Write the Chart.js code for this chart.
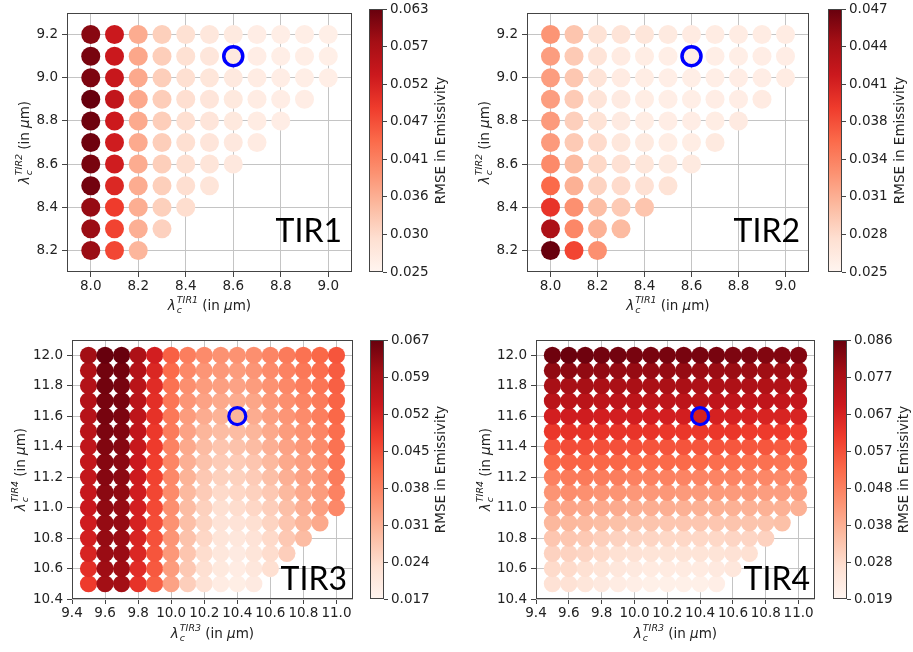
<!DOCTYPE html>
<html>
<head>
    <title>RMSE in Emissivity</title>
    <script src="https://cdn.jsdelivr.net/npm/chart.js"></script>
    <style>
        body { margin: 0; background: #fff; }
        #wrap { position: relative; width: 913px; height: 652px; }
        #wrap canvas { position: absolute; left: 0; top: 0; }
    </style>
</head>
<body>
<div id="wrap">
    <canvas id="p1" width="913" height="652"></canvas>
    <canvas id="p2" width="913" height="652"></canvas>
    <canvas id="p3" width="913" height="652"></canvas>
    <canvas id="p4" width="913" height="652"></canvas>
    <canvas id="cb1" width="913" height="652"></canvas>
    <canvas id="cb2" width="913" height="652"></canvas>
    <canvas id="cb3" width="913" height="652"></canvas>
    <canvas id="cb4" width="913" height="652"></canvas>
</div>

<script>
    // grid of band centres (in um); rows listed top (largest) to bottom
    const tir12Cols = [8.0, 8.1, 8.2, 8.3, 8.4, 8.5, 8.6, 8.7, 8.8, 8.9, 9.0];
    const tir12Rows = [9.2, 9.1, 9.0, 8.9, 8.8, 8.7, 8.6, 8.5, 8.4, 8.3, 8.2];
    const tir34Cols = [9.5, 9.6, 9.7, 9.8, 9.9, 10.0, 10.1, 10.2, 10.3, 10.4, 10.5, 10.6, 10.7, 10.8, 10.9, 11.0];
    const tir34Rows = [12.0, 11.9, 11.8, 11.7, 11.6, 11.5, 11.4, 11.3, 11.2, 11.1, 11.0, 10.9, 10.8, 10.7, 10.6, 10.5];

    const tir12XTicks = [8.0, 8.2, 8.4, 8.6, 8.8, 9.0];
    const tir12YTicks = [8.2, 8.4, 8.6, 8.8, 9.0, 9.2];
    const tir34XTicks = [9.4, 9.6, 9.8, 10.0, 10.2, 10.4, 10.6, 10.8, 11.0];
    const tir34YTicks = [10.4, 10.6, 10.8, 11.0, 11.2, 11.4, 11.6, 11.8, 12.0];

    // RMSE per row (same order as rows), each row from first column up to x <= y
    const tir1Rmse = [
        [0.0603, 0.0535, 0.0362, 0.0318, 0.0296, 0.0282, 0.0275, 0.0268, 0.0266, 0.0265, 0.0264],
        [0.0615, 0.0535, 0.0368, 0.0320, 0.0296, 0.0283, 0.0276, 0.0268, 0.0266, 0.0265, 0.0264],
        [0.0611, 0.0539, 0.0365, 0.0320, 0.0297, 0.0284, 0.0277, 0.0270, 0.0267, 0.0266, 0.0265],
        [0.0630, 0.0546, 0.0366, 0.0321, 0.0298, 0.0285, 0.0278, 0.0271, 0.0268, 0.0267],
        [0.0622, 0.0532, 0.0364, 0.0320, 0.0297, 0.0285, 0.0278, 0.0271, 0.0268],
        [0.0622, 0.0528, 0.0364, 0.0320, 0.0297, 0.0285, 0.0279, 0.0272],
        [0.0615, 0.0528, 0.0362, 0.0319, 0.0297, 0.0286, 0.0279],
        [0.0619, 0.0512, 0.0362, 0.0319, 0.0298, 0.0287],
        [0.0592, 0.0486, 0.0360, 0.0318, 0.0300],
        [0.0588, 0.0478, 0.0358, 0.0316],
        [0.0588, 0.0474, 0.0350]
    ];
    const tir2Rmse = [
        [0.0331, 0.0298, 0.0274, 0.0272, 0.0270, 0.0265, 0.0263, 0.0262, 0.0262, 0.0262, 0.0262],
        [0.0325, 0.0294, 0.0272, 0.0263, 0.0261, 0.0259, 0.0259, 0.0259, 0.0259, 0.0260, 0.0260],
        [0.0325, 0.0296, 0.0272, 0.0263, 0.0261, 0.0259, 0.0259, 0.0259, 0.0260, 0.0260, 0.0262],
        [0.0325, 0.0294, 0.0272, 0.0264, 0.0261, 0.0259, 0.0259, 0.0260, 0.0260, 0.0263],
        [0.0327, 0.0290, 0.0274, 0.0264, 0.0261, 0.0260, 0.0260, 0.0261, 0.0264],
        [0.0327, 0.0294, 0.0281, 0.0268, 0.0265, 0.0261, 0.0261, 0.0265],
        [0.0338, 0.0305, 0.0283, 0.0276, 0.0270, 0.0265, 0.0265],
        [0.0360, 0.0312, 0.0287, 0.0281, 0.0276, 0.0274],
        [0.0393, 0.0334, 0.0303, 0.0294, 0.0298],
        [0.0437, 0.0340, 0.0312, 0.0305],
        [0.0470, 0.0382, 0.0334]
    ];
    const tir3Rmse = [
        [0.0605, 0.0670, 0.0665, 0.0590, 0.0530, 0.0430, 0.0385, 0.0365, 0.0355, 0.0355, 0.0360, 0.0375, 0.0390, 0.0405, 0.0420, 0.0445],
        [0.0585, 0.0655, 0.0655, 0.0580, 0.0515, 0.0415, 0.0370, 0.0350, 0.0345, 0.0340, 0.0350, 0.0365, 0.0380, 0.0395, 0.0410, 0.0435],
        [0.0580, 0.0655, 0.0650, 0.0570, 0.0505, 0.0405, 0.0360, 0.0340, 0.0335, 0.0330, 0.0340, 0.0355, 0.0370, 0.0385, 0.0400, 0.0430],
        [0.0580, 0.0650, 0.0650, 0.0570, 0.0500, 0.0400, 0.0350, 0.0330, 0.0320, 0.0315, 0.0325, 0.0345, 0.0360, 0.0375, 0.0390, 0.0425],
        [0.0575, 0.0650, 0.0645, 0.0565, 0.0495, 0.0395, 0.0340, 0.0315, 0.0305, 0.0300, 0.0315, 0.0335, 0.0350, 0.0365, 0.0385, 0.0420],
        [0.0570, 0.0645, 0.0640, 0.0560, 0.0485, 0.0390, 0.0330, 0.0300, 0.0290, 0.0290, 0.0300, 0.0320, 0.0340, 0.0355, 0.0375, 0.0410],
        [0.0560, 0.0640, 0.0635, 0.0550, 0.0480, 0.0380, 0.0320, 0.0290, 0.0275, 0.0280, 0.0290, 0.0310, 0.0330, 0.0345, 0.0365, 0.0405],
        [0.0555, 0.0635, 0.0630, 0.0545, 0.0475, 0.0375, 0.0310, 0.0280, 0.0265, 0.0265, 0.0275, 0.0295, 0.0320, 0.0335, 0.0355, 0.0400],
        [0.0555, 0.0635, 0.0630, 0.0540, 0.0470, 0.0370, 0.0305, 0.0270, 0.0255, 0.0255, 0.0265, 0.0285, 0.0310, 0.0330, 0.0345, 0.0390],
        [0.0550, 0.0630, 0.0625, 0.0535, 0.0465, 0.0365, 0.0295, 0.0265, 0.0240, 0.0245, 0.0255, 0.0270, 0.0295, 0.0320, 0.0340, 0.0380],
        [0.0545, 0.0625, 0.0620, 0.0530, 0.0460, 0.0360, 0.0290, 0.0255, 0.0230, 0.0235, 0.0245, 0.0260, 0.0285, 0.0310, 0.0335, 0.0370],
        [0.0535, 0.0620, 0.0620, 0.0525, 0.0455, 0.0355, 0.0285, 0.0250, 0.0220, 0.0220, 0.0230, 0.0250, 0.0275, 0.0300, 0.0320],
        [0.0530, 0.0620, 0.0615, 0.0520, 0.0450, 0.0350, 0.0280, 0.0245, 0.0215, 0.0210, 0.0220, 0.0240, 0.0270, 0.0290],
        [0.0520, 0.0615, 0.0615, 0.0515, 0.0445, 0.0345, 0.0275, 0.0235, 0.0210, 0.0200, 0.0215, 0.0235, 0.0260],
        [0.0500, 0.0610, 0.0610, 0.0505, 0.0440, 0.0340, 0.0270, 0.0230, 0.0205, 0.0195, 0.0210, 0.0230],
        [0.0480, 0.0605, 0.0605, 0.0495, 0.0430, 0.0330, 0.0260, 0.0225, 0.0195, 0.0190, 0.0200]
    ];
    const tir4Rmse = [
        [0.0853, 0.0860, 0.0853, 0.0847, 0.0847, 0.0840, 0.0840, 0.0840, 0.0840, 0.0840, 0.0840, 0.0833, 0.0833, 0.0827, 0.0827, 0.0827],
        [0.0806, 0.0813, 0.0806, 0.0806, 0.0800, 0.0800, 0.0800, 0.0800, 0.0800, 0.0793, 0.0793, 0.0793, 0.0793, 0.0786, 0.0786, 0.0786],
        [0.0773, 0.0773, 0.0773, 0.0766, 0.0766, 0.0766, 0.0766, 0.0766, 0.0766, 0.0760, 0.0760, 0.0760, 0.0760, 0.0753, 0.0753, 0.0753],
        [0.0733, 0.0733, 0.0733, 0.0726, 0.0726, 0.0726, 0.0726, 0.0726, 0.0726, 0.0726, 0.0719, 0.0719, 0.0719, 0.0719, 0.0713, 0.0713],
        [0.0679, 0.0686, 0.0686, 0.0679, 0.0679, 0.0679, 0.0679, 0.0679, 0.0679, 0.0672, 0.0672, 0.0672, 0.0672, 0.0666, 0.0666, 0.0666],
        [0.0619, 0.0632, 0.0632, 0.0626, 0.0626, 0.0626, 0.0626, 0.0619, 0.0619, 0.0619, 0.0619, 0.0619, 0.0612, 0.0612, 0.0612, 0.0605],
        [0.0565, 0.0579, 0.0579, 0.0572, 0.0572, 0.0572, 0.0565, 0.0565, 0.0565, 0.0565, 0.0565, 0.0559, 0.0559, 0.0559, 0.0552, 0.0552],
        [0.0525, 0.0538, 0.0538, 0.0532, 0.0532, 0.0525, 0.0525, 0.0525, 0.0525, 0.0525, 0.0518, 0.0518, 0.0512, 0.0512, 0.0505, 0.0505],
        [0.0478, 0.0492, 0.0492, 0.0485, 0.0485, 0.0478, 0.0478, 0.0478, 0.0471, 0.0471, 0.0471, 0.0471, 0.0465, 0.0465, 0.0458, 0.0458],
        [0.0438, 0.0451, 0.0445, 0.0438, 0.0438, 0.0431, 0.0431, 0.0431, 0.0425, 0.0425, 0.0425, 0.0425, 0.0425, 0.0418, 0.0418, 0.0418],
        [0.0398, 0.0404, 0.0398, 0.0391, 0.0391, 0.0384, 0.0384, 0.0384, 0.0378, 0.0378, 0.0378, 0.0378, 0.0378, 0.0378, 0.0378, 0.0378],
        [0.0364, 0.0364, 0.0358, 0.0351, 0.0344, 0.0337, 0.0337, 0.0331, 0.0331, 0.0331, 0.0331, 0.0337, 0.0337, 0.0337, 0.0344],
        [0.0331, 0.0331, 0.0324, 0.0311, 0.0304, 0.0297, 0.0297, 0.0291, 0.0291, 0.0291, 0.0291, 0.0297, 0.0297, 0.0304],
        [0.0304, 0.0304, 0.0297, 0.0284, 0.0270, 0.0264, 0.0257, 0.0257, 0.0257, 0.0257, 0.0257, 0.0264, 0.0270],
        [0.0284, 0.0284, 0.0270, 0.0257, 0.0244, 0.0237, 0.0230, 0.0230, 0.0230, 0.0230, 0.0237, 0.0244],
        [0.0264, 0.0264, 0.0250, 0.0237, 0.0224, 0.0217, 0.0210, 0.0210, 0.0210, 0.0210, 0.0217]
    ];

    // selected band pair (blue ring)
    const tir1Best = {x: 8.6, y: 9.1};
    const tir2Best = {x: 8.6, y: 9.1};
    const tir3Best = {x: 10.4, y: 11.6};
    const tir4Best = {x: 10.4, y: 11.6};

    // colorbar ticks (first/last = colour limits) and their labels
    const cb1Ticks = [0.0250, 0.0304, 0.0358, 0.0412, 0.0466, 0.0520, 0.0574, 0.0628];
    const cb1Labels = ['0.025', '0.030', '0.036', '0.041', '0.047', '0.052', '0.057', '0.063'];
    const cb2Ticks = [0.0250, 0.02815, 0.0313, 0.03445, 0.0376, 0.04075, 0.0439, 0.04705];
    const cb2Labels = ['0.025', '0.028', '0.031', '0.034', '0.038', '0.041', '0.044', '0.047'];
    const cb3Ticks = [0.0168, 0.02391, 0.03102, 0.03813, 0.04524, 0.05235, 0.05946, 0.06657];
    const cb3Labels = ['0.017', '0.024', '0.031', '0.038', '0.045', '0.052', '0.059', '0.067'];
    const cb4Ticks = [0.0188, 0.02845, 0.0381, 0.04775, 0.0574, 0.06705, 0.0767, 0.08635];
    const cb4Labels = ['0.019', '0.028', '0.038', '0.048', '0.057', '0.067', '0.077', '0.086'];

    const FAM = '"DejaVu Sans", sans-serif';
    const FS = 13.5;
    const TXT = '#222';

    // matplotlib "Reds"
    const redsStops = ['#fff5f0', '#fee0d2', '#fcbba1', '#fc9272', '#fb6a4a', '#ef3b2c', '#cb181d', '#a50f15', '#67000d'];
    function hex(c) { return [1, 3, 5].map(i => parseInt(c.substr(i, 2), 16)); }
    function reds(t) {
        t = Math.max(0, Math.min(1, t));
        const p = t * 8, i = Math.min(7, Math.floor(p)), f = p - i;
        const a = hex(redsStops[i]), b = hex(redsStops[i + 1]);
        return 'rgb(' + a.map((v, k) => Math.round(v + (b[k] - v) * f)).join(',') + ')';
    }

    function gridPoints(cols, rows, rmse) {
        // column by column, bottom row first (drawing order of the original)
        const pts = [];
        cols.forEach((x, i) => {
            for (let r = rows.length - 1; r >= 0; r--) {
                if (rmse[r][i] !== undefined) pts.push({x: x, y: rows[r], v: rmse[r][i]});
            }
        });
        return pts;
    }

    function lambdaLabel(ctx, cx, cy, sup, vertical) {
        const small = FS * 0.7;
        const it = `italic ${FS}px ${FAM}`, rg = `${FS}px ${FAM}`, sm = `italic ${small}px ${FAM}`;
        ctx.save();
        ctx.translate(cx, cy);
        if (vertical) ctx.rotate(-Math.PI / 2);
        ctx.fillStyle = TXT;
        ctx.textBaseline = 'alphabetic';
        ctx.textAlign = 'left';
        ctx.font = it; const wL = ctx.measureText('λ').width, wMu = ctx.measureText('μ').width;
        ctx.font = sm; const wS = Math.max(ctx.measureText('c').width, ctx.measureText(sup).width);
        ctx.font = rg; const w1 = ctx.measureText(' (in ').width, w2 = ctx.measureText('m)').width;
        const total = wL + 1 + wS + w1 + wMu + w2;
        let x = -total / 2;
        const base = FS * 0.36;
        ctx.font = it; ctx.fillText('λ', x, base); x += wL + 1;
        ctx.font = sm; ctx.fillText('c', x, base + FS * 0.22); ctx.fillText(sup, x, base - FS * 0.5); x += wS;
        ctx.font = rg; ctx.fillText(' (in ', x, base); x += w1;
        ctx.font = it; ctx.fillText('μ', x, base); x += wMu;
        ctx.font = rg; ctx.fillText('m)', x, base);
        ctx.restore();
    }

    function makePanel(id, p) {
        const lo = p.cbTicks[0], hi = p.cbTicks[p.cbTicks.length - 1];
        const a = p.area;
        const deco = {
            id: 'deco',
            afterDraw(chart) {
                const ctx = chart.ctx, ca = chart.chartArea;
                ctx.save();
                ctx.strokeStyle = '#444';
                ctx.lineWidth = 1;
                ctx.strokeRect(ca.left + 0.5, ca.top + 0.5, ca.right - ca.left - 1, ca.bottom - ca.top - 1);
                lambdaLabel(ctx, (ca.left + ca.right) / 2, p.xTitleY, p.xSup, false);
                lambdaLabel(ctx, p.yTitleX, (ca.top + ca.bottom) / 2, p.ySup, true);
                ctx.font = `32px Lato, "Open Sans", sans-serif`;
                ctx.fillStyle = '#000';
                ctx.textAlign = 'right';
                ctx.textBaseline = 'alphabetic';
                ctx.fillText(p.tag, p.tagX, p.tagY);
                ctx.restore();
            }
        };
        const tickFont = {family: FAM, size: FS};
        new Chart(document.getElementById(id), {
            type: 'scatter',
            data: {
                datasets: [{
                    data: gridPoints(p.cols, p.rows, p.rmse),
                    order: 2,
                    pointRadius: p.dotR,
                    pointHoverRadius: p.dotR,
                    pointBorderWidth: 0,
                    pointBackgroundColor: c => reds((c.raw.v - lo) / (hi - lo))
                }, {
                    data: [p.best],
                    order: 1,
                    pointRadius: p.ringR,
                    pointHoverRadius: p.ringR,
                    pointBorderWidth: p.ringW,
                    pointBorderColor: '#0000ff',
                    pointBackgroundColor: 'rgba(0,0,0,0)'
                }]
            },
            options: {
                responsive: false,
                animation: false,
                events: [],
                layout: {padding: {left: a.left - 40, top: a.top, right: 913 - a.right, bottom: 652 - a.bottom - 40}},
                plugins: {legend: {display: false}, tooltip: {enabled: false}},
                scales: {
                    x: {
                        type: 'linear', min: p.xMin, max: p.xMax, z: 1,
                        afterBuildTicks: s => { s.ticks = p.xTicks.map(v => ({value: v})); },
                        afterFit: s => { s.height = 40; s.paddingLeft = 0; s.paddingRight = 0; },
                        ticks: {callback: v => v.toFixed(1), font: tickFont, color: TXT, padding: 1, maxRotation: 0, autoSkip: false},
                        grid: {color: '#c4c4c4', lineWidth: 1, tickLength: 5, tickColor: '#444'},
                        border: {display: false}
                    },
                    y: {
                        type: 'linear', min: p.yMin, max: p.yMax, z: 1,
                        afterBuildTicks: s => { s.ticks = p.yTicks.map(v => ({value: v})); },
                        afterFit: s => { s.width = 40; s.paddingTop = 0; s.paddingBottom = 0; },
                        ticks: {callback: v => v.toFixed(1), font: tickFont, color: TXT, padding: 4, autoSkip: false},
                        grid: {color: '#c4c4c4', lineWidth: 1, tickLength: 5, tickColor: '#444'},
                        border: {display: false}
                    }
                }
            },
            plugins: [deco]
        });
    }

    function makeColorbar(id, c) {
        const lo = c.ticks[0], hi = c.ticks[c.ticks.length - 1];
        const a = c.area;
        const bar = {
            id: 'bar',
            beforeDatasetsDraw(chart) {
                const ctx = chart.ctx, ca = chart.chartArea;
                const g = ctx.createLinearGradient(0, ca.bottom, 0, ca.top);
                redsStops.forEach((col, i) => g.addColorStop(i / 8, col));
                ctx.save();
                ctx.fillStyle = g;
                ctx.fillRect(ca.left, ca.top, ca.right - ca.left, ca.bottom - ca.top);
                ctx.restore();
            },
            afterDraw(chart) {
                const ctx = chart.ctx, ca = chart.chartArea;
                ctx.save();
                ctx.strokeStyle = '#444';
                ctx.lineWidth = 1;
                ctx.strokeRect(ca.left + 0.5, ca.top + 0.5, ca.right - ca.left - 1, ca.bottom - ca.top - 1);
                ctx.translate(c.titleX, (ca.top + ca.bottom) / 2);
                ctx.rotate(-Math.PI / 2);
                ctx.font = `${FS}px ${FAM}`;
                ctx.fillStyle = TXT;
                ctx.textAlign = 'center';
                ctx.textBaseline = 'middle';
                ctx.fillText('RMSE in Emissivity', 0, 0);
                ctx.restore();
            }
        };
        new Chart(document.getElementById(id), {
            type: 'scatter',
            data: {datasets: []},
            options: {
                responsive: false,
                animation: false,
                events: [],
                layout: {padding: {left: a.left, top: a.top, right: 913 - a.right - 60, bottom: 652 - a.bottom}},
                plugins: {legend: {display: false}, tooltip: {enabled: false}},
                scales: {
                    x: {display: false, min: 0, max: 1},
                    y: {
                        type: 'linear', position: 'right', min: lo, max: hi,
                        afterBuildTicks: s => { s.ticks = c.ticks.map(v => ({value: v})); },
                        afterFit: s => { s.width = 60; s.paddingTop = 0; s.paddingBottom = 0; },
                        ticks: {callback: (v, i) => c.labels[i], font: {family: FAM, size: FS}, color: TXT, padding: 3, autoSkip: false},
                        grid: {drawOnChartArea: false, tickLength: 4, tickColor: '#444'},
                        border: {display: false}
                    }
                }
            },
            plugins: [bar]
        });
    }

    makePanel('p1', {
        cols: tir12Cols, rows: tir12Rows, rmse: tir1Rmse, best: tir1Best, cbTicks: cb1Ticks,
        area: {left: 67, top: 9, right: 352, bottom: 272},
        xMin: 7.9, xMax: 9.1, yMin: 8.1, yMax: 9.3, xTicks: tir12XTicks, yTicks: tir12YTicks,
        xSup: 'TIR1', ySup: 'TIR2', xTitleY: 305, yTitleX: 24, tag: 'TIR1', tagX: 342, tagY: 242,
        dotR: 9.5, ringR: 9.5, ringW: 3.5
    });
    makePanel('p2', {
        cols: tir12Cols, rows: tir12Rows, rmse: tir2Rmse, best: tir2Best, cbTicks: cb2Ticks,
        area: {left: 527, top: 9, right: 809, bottom: 272},
        xMin: 7.9, xMax: 9.1, yMin: 8.1, yMax: 9.3, xTicks: tir12XTicks, yTicks: tir12YTicks,
        xSup: 'TIR1', ySup: 'TIR2', xTitleY: 305, yTitleX: 484, tag: 'TIR2', tagX: 800, tagY: 242,
        dotR: 9.5, ringR: 9.5, ringW: 3.5
    });
    makePanel('p3', {
        cols: tir34Cols, rows: tir34Rows, rmse: tir3Rmse, best: tir3Best, cbTicks: cb3Ticks,
        area: {left: 72, top: 340, right: 353, bottom: 599},
        xMin: 9.4, xMax: 11.1, yMin: 10.4, yMax: 12.1, xTicks: tir34XTicks, yTicks: tir34YTicks,
        xSup: 'TIR3', ySup: 'TIR4', xTitleY: 633, yTitleX: 20, tag: 'TIR3', tagX: 347, tagY: 590,
        dotR: 8.6, ringR: 8.5, ringW: 3.2
    });
    makePanel('p4', {
        cols: tir34Cols, rows: tir34Rows, rmse: tir4Rmse, best: tir4Best, cbTicks: cb4Ticks,
        area: {left: 536, top: 340, right: 815, bottom: 599},
        xMin: 9.4, xMax: 11.1, yMin: 10.4, yMax: 12.1, xTicks: tir34XTicks, yTicks: tir34YTicks,
        xSup: 'TIR3', ySup: 'TIR4', xTitleY: 633, yTitleX: 485, tag: 'TIR4', tagX: 810, tagY: 590,
        dotR: 8.6, ringR: 8.5, ringW: 3.2
    });

    makeColorbar('cb1', {ticks: cb1Ticks, labels: cb1Labels, area: {left: 369, top: 9, right: 383, bottom: 272}, titleX: 441});
    makeColorbar('cb2', {ticks: cb2Ticks, labels: cb2Labels, area: {left: 828, top: 9, right: 842, bottom: 272}, titleX: 900});
    makeColorbar('cb3', {ticks: cb3Ticks, labels: cb3Labels, area: {left: 370, top: 340, right: 384, bottom: 599}, titleX: 441});
    makeColorbar('cb4', {ticks: cb4Ticks, labels: cb4Labels, area: {left: 833, top: 340, right: 847, bottom: 599}, titleX: 904});
</script>
</body>
</html>
